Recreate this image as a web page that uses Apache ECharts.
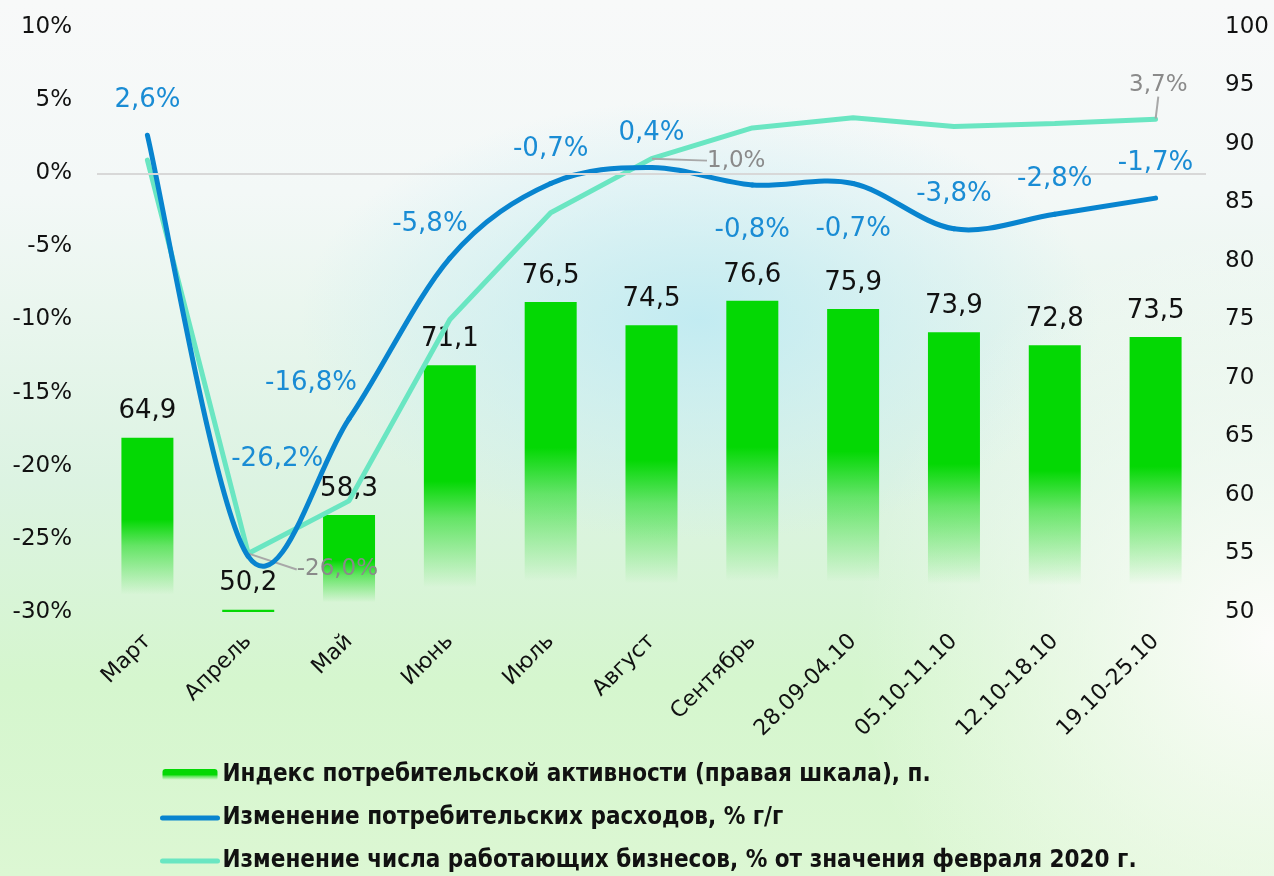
<!DOCTYPE html>
<html>
<head>
<meta charset="utf-8">
<script src="https://cdn.jsdelivr.net/npm/echarts@6/dist/echarts.min.js"></script>
<style>
    html, body {margin: 0; padding: 0;}
    #main {width: 1274px; height: 876px;}
</style>
</head>
<body>
<div id="main"></div>
<script>
let categories = ['Март', 'Апрель', 'Май', 'Июнь', 'Июль', 'Август', 'Сентябрь',
    '28.09-04.10', '05.10-11.10', '12.10-18.10', '19.10-25.10'];
let activityIndex = [64.9, 50.2, 58.3, 71.1, 76.5, 74.5, 76.6, 75.9, 73.9, 72.8, 73.5];
let spendingChange = [2.6, -26.2, -16.8, -5.8, -0.7, 0.4, -0.8, -0.7, -3.8, -2.8, -1.7];
let businessChange = [0.9, -26.0, -22.4, -10.0, -2.7, 1.0, 3.1, 3.8, 3.2, 3.4, 3.7];
let businessLabelIdx = [1, 5, 10];
let seriesNames = [
    'Индекс потребительской активности (правая шкала), п.',
    'Изменение потребительских расходов, % г/г',
    'Изменение числа работающих бизнесов, % от значения февраля 2020 г.'
];

let green = '#04d804';
let blue = '#0884cf';
let mint = '#6ae6c2';
let numFont = 'DejaVu Sans';

let fmt = function (v) {
    return v.toFixed(1).replace('.', ',');
};

// label placement tweaks for the spending line
let spendTweak = {
    1: {offset: [29, -63]},
    2: {offset: [-38, -1]},
    3: {offset: [-20, 1]},
    6: {position: 'bottom', distance: 32},
    7: {position: 'bottom', distance: 32}
};
// guide-line labels of the business line
let bizLayout = {
    1: {dx: 48, dy: 16},
    5: {dx: 55, dy: 2},
    10: {dx: -27, dy: -34}
};

let barData = activityIndex.map(function (v) {
    let item = {value: v};
    if (v - 50 < 1) {
        item.itemStyle = {color: green};
    }
    return item;
});
let spendData = spendingChange.map(function (v, i) {
    let item = {value: v};
    if (spendTweak[i]) item.label = spendTweak[i];
    return item;
});
let bizData = businessChange.map(function (v, i) {
    return {value: v, label: {show: businessLabelIdx.indexOf(i) >= 0}};
});

// excel-like smoothed curve (catmull-rom) for the spending line
let spendCurve = function (params, api) {
    let i = params.dataIndex;
    let n = spendingChange.length;
    if (i >= n - 1) return null;
    let pt = function (j) {
        j = Math.max(0, Math.min(n - 1, j));
        return api.coord([j, spendingChange[j]]);
    };
    let p0 = pt(i - 1), p1 = pt(i), p2 = pt(i + 1), p3 = pt(i + 2);
    return {
        type: 'bezierCurve',
        shape: {
            x1: p1[0], y1: p1[1], x2: p2[0], y2: p2[1],
            cpx1: p1[0] + (p2[0] - p0[0]) / 6, cpy1: p1[1] + (p2[1] - p0[1]) / 6,
            cpx2: p2[0] - (p3[0] - p1[0]) / 6, cpy2: p2[1] - (p3[1] - p1[1]) / 6
        },
        style: {stroke: blue, lineWidth: 5, fill: 'none', lineCap: 'round'}
    };
};

let chart = echarts.init(document.getElementById('main'));
chart.setOption({
    animation: false,
    backgroundColor: new echarts.graphic.LinearGradient(0, 0, 0, 1, [
        {offset: 0, color: '#f8f9f9'},
        {offset: 0.22, color: '#f3f8f7'},
        {offset: 0.55, color: '#dcf3e2'},
        {offset: 0.78, color: '#d5f6ce'},
        {offset: 1, color: '#dcf7d3'}
    ]),
    graphic: [
        {
            type: 'circle', silent: true, z: -10,
            shape: {cx: 700, cy: 320, r: 400}, scaleY: 0.55, originX: 700, originY: 320,
            style: {fill: new echarts.graphic.RadialGradient(0.5, 0.5, 0.5, [
                {offset: 0, color: 'rgba(190,234,242,0.9)'},
                {offset: 1, color: 'rgba(190,234,242,0)'}
            ])}
        },
        {
            type: 'circle', silent: true, z: -9,
            shape: {cx: 1274, cy: 640, r: 420},
            style: {fill: new echarts.graphic.RadialGradient(0.5, 0.5, 0.5, [
                {offset: 0, color: 'rgba(252,252,250,1)'},
                {offset: 1, color: 'rgba(252,252,250,0)'}
            ])}
        }
    ],
    grid: {left: 97, right: 68, top: 27, bottom: 264},
    legend: {
        orient: 'vertical', left: 160, top: 763, padding: 0,
        itemWidth: 55, itemHeight: 12, itemGap: 19,
        textStyle: {fontFamily: 'DejaVu Sans Condensed', fontWeight: 'bold', fontSize: 24, color: '#111'},
        data: [
            {name: seriesNames[0]},
            {name: seriesNames[1], itemStyle: {opacity: 0}, lineStyle: {opacity: 1, width: 5, color: blue, cap: 'round'}},
            {name: seriesNames[2], itemStyle: {opacity: 0}, lineStyle: {opacity: 1, width: 5, color: mint, cap: 'round'}}
        ]
    },
    xAxis: {
        type: 'category', data: categories,
        axisLine: {show: false}, axisTick: {show: false},
        axisLabel: {rotate: 45, margin: 26, fontFamily: 'DejaVu Sans', fontSize: 22, color: '#111', interval: 0}
    },
    yAxis: [
        {
            type: 'value', min: -30, max: 10, interval: 5,
            axisLine: {show: false}, axisTick: {show: false}, splitLine: {show: false},
            axisLabel: {formatter: '{value}%', margin: 25, fontFamily: numFont, fontSize: 23, color: '#111'}
        },
        {
            type: 'value', min: 50, max: 100, interval: 5, position: 'right',
            axisLine: {show: false}, axisTick: {show: false}, splitLine: {show: false},
            axisLabel: {margin: 19, fontFamily: numFont, fontSize: 23, color: '#111'}
        }
    ],
    series: [
        {
            name: seriesNames[0], type: 'bar', yAxisIndex: 1, barWidth: 52,
            data: barData,
            itemStyle: {
                color: new echarts.graphic.LinearGradient(0, 0, 0, 1, [
                    {offset: 0, color: green},
                    {offset: 0.47, color: green},
                    {offset: 0.62, color: 'rgba(4,216,4,0.55)'},
                    {offset: 0.9, color: 'rgba(4,216,4,0)'},
                    {offset: 1, color: 'rgba(4,216,4,0)'}
                ])
            },
            label: {
                show: true, position: 'top', distance: 13,
                fontFamily: numFont, fontSize: 26, color: '#111',
                formatter: function (p) { return fmt(p.value); }
            }
        },
        {
            name: seriesNames[1], type: 'line', yAxisIndex: 0,
            data: spendData,
            symbol: 'circle', symbolSize: 1,
            lineStyle: {width: 5, color: blue, opacity: 0},
            itemStyle: {color: blue},
            label: {
                show: true, position: 'top', distance: 21,
                fontFamily: numFont, fontSize: 26, color: '#1a8cd4',
                formatter: function (p) { return fmt(p.value) + '%'; }
            },
            markLine: {
                silent: true, symbol: 'none', label: {show: false},
                lineStyle: {color: '#d8d8d8', width: 2, type: 'solid'},
                data: [{yAxis: 0}]
            },
            z: 5
        },
        {
            name: 'spendCurve', type: 'custom', yAxisIndex: 0,
            data: spendingChange.map(function (v, i) { return [i, v]; }),
            encode: {x: 0, y: 1},
            renderItem: spendCurve,
            silent: true,
            z: 4
        },
        {
            name: seriesNames[2], type: 'line', yAxisIndex: 0,
            data: bizData,
            symbol: 'circle', symbolSize: 1,
            lineStyle: {width: 5, color: mint, cap: 'round'},
            itemStyle: {color: mint},
            label: {
                position: 'right', distance: 0,
                fontFamily: numFont, fontSize: 23, color: '#8a8a8a',
                formatter: function (p) { return fmt(p.value) + '%'; }
            },
            labelLine: {show: true, lineStyle: {color: '#a8a8a8', width: 2}},
            labelLayout: function (p) {
                return bizLayout[p.dataIndex] || {};
            },
            z: 3
        }
    ]
});
</script>
</body>
</html>
